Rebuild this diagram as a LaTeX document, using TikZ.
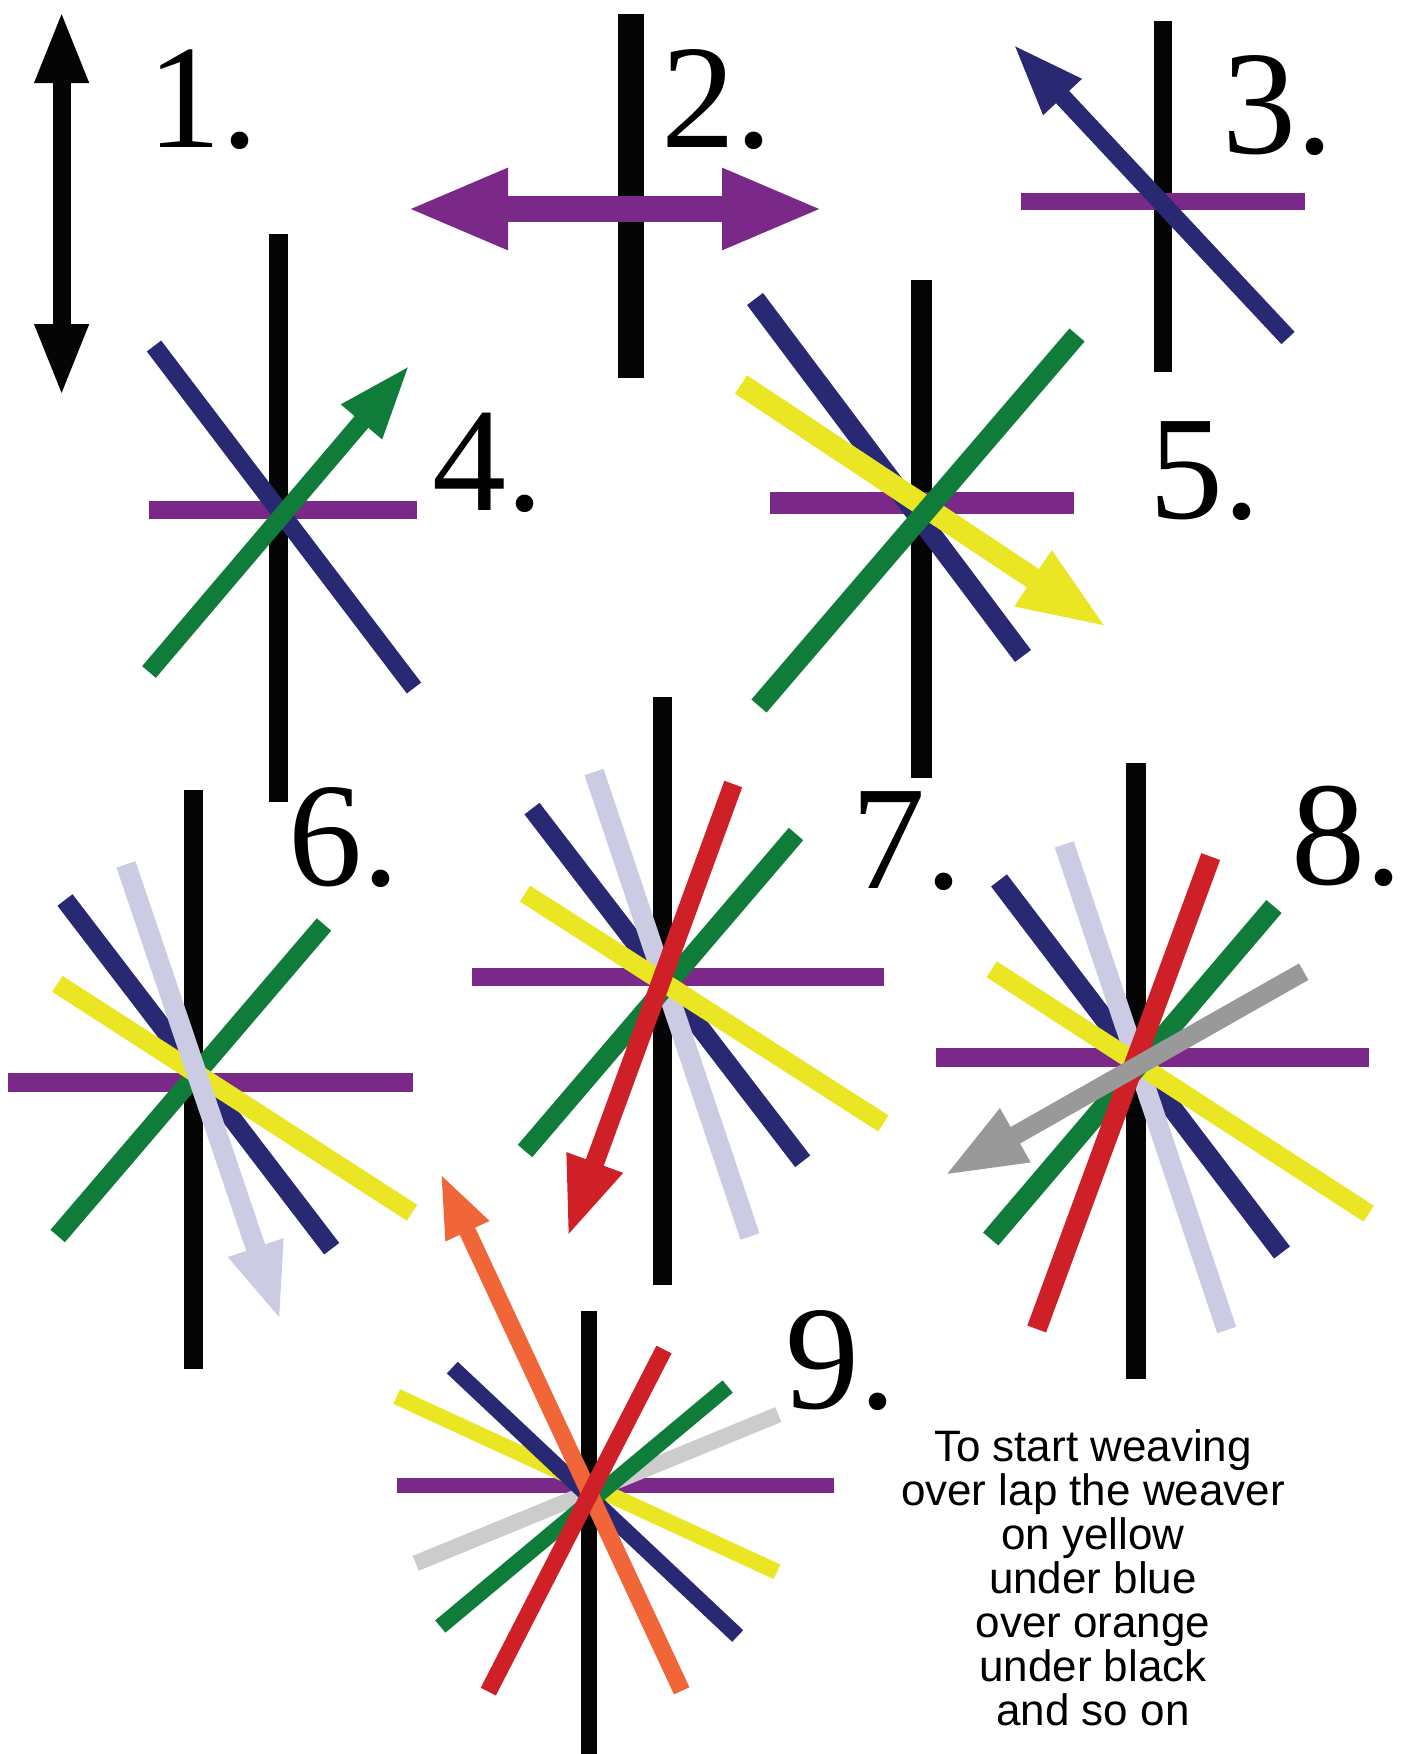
\documentclass[tikz,border=0pt]{standalone}
\usepackage{fontspec}
\setmainfont{Liberation Serif}
\newfontfamily\notefont{Liberation Sans}
\usetikzlibrary{arrows.meta}
\definecolor{wpurple}{RGB}{122,41,137}
\definecolor{wblue}{RGB}{41,40,115}
\definecolor{wgreen}{RGB}{16,124,58}
\definecolor{wyellow}{RGB}{234,230,35}
\definecolor{wlav}{RGB}{203,204,228}
\definecolor{wred}{RGB}{208,32,39}
\definecolor{wgray}{RGB}{153,153,153}
\definecolor{wlgray}{RGB}{204,204,204}
\definecolor{worange}{RGB}{241,102,56}
\definecolor{wblack}{RGB}{5,5,5}
\begin{document}
\begin{tikzpicture}[x=1pt,y=-1pt,
  num/.style={anchor=base west, inner sep=0pt, font=\fontsize{148}{150}\selectfont},
  note/.style={anchor=base, inner sep=0pt, font=\notefont\fontsize{44}{44}\selectfont},
  lw/.style={line width=#1pt}]
\useasboundingbox[fill=white] (0,0) rectangle (1405,1754);

% ---- 1
\draw[wblack,lw=18,{Triangle[length=73pt,width=49pt]}-{Triangle[length=73pt,width=49pt]}] (61.6,397) -- (61.6,10);
\node[num] (n1) at (147,147) {1.};

% ---- 2
\draw[wblack,lw=26] (631,14) -- (631,378);
\draw[wpurple,lw=26,{Triangle[length=102pt,width=74pt]}-{Triangle[length=102pt,width=74pt]}] (406,209) -- (824,209);
\node[num] (n2) at (661,147) {2.};

% ---- 3
\draw[wblack,lw=18] (1163,21) -- (1163,372);
\draw[wpurple,lw=17] (1021,201.5) -- (1305,201.5);
\draw[wblue,lw=18,-{Triangle[length=74pt,width=47pt]}] (1288,338) -- (1012,43);
\node[num] (n3) at (1222,153) {3.};

% ---- 4
\draw[wblack,lw=19] (278.5,234) -- (278.5,802);
\draw[wpurple,lw=18] (149,509.5) -- (417,509.5);
\draw[wblue,lw=18] (154,346) -- (414,688);
\draw[wgreen,lw=18,-{Triangle[length=76pt,width=48pt]}] (149,672) -- (410.7,364);
\node[num] (n4) at (432,510) {4.};

% ---- 5
\draw[wblack,lw=21] (921,280) -- (921,778);
\draw[wpurple,lw=22] (770,503) -- (1074,503);
\draw[wblue,lw=20] (755,299) -- (1023,656);
\draw[wyellow,lw=22,-{Triangle[length=90pt,width=60pt]}] (741,384.5) -- (1108,628);
\draw[wgreen,lw=20] (759,706) -- (1077,335);
\node[num] (n5) at (1149,518) {5.};

% ---- 6
\draw[wblack,lw=19] (193.5,790) -- (193.5,1369);
\draw[wpurple,lw=19] (8,1082) -- (413,1082);
\draw[wblue,lw=19] (65,900) -- (331.7,1248.7);
\draw[wgreen,lw=19] (57.7,1236) -- (324,924.5);
\draw[wyellow,lw=19] (57.3,983.8) -- (412,1212.7);
\draw[wlav,lw=20,-{Triangle[length=78pt,width=52pt]}] (126,864.4) -- (280.7,1321.5);
\node[num] (n6) at (288,885) {6.};

% ---- 7
\draw[wblack,lw=19] (662.5,697) -- (662.5,1285);
\draw[wblue,lw=19] (532,808.6) -- (802.7,1161.3);
\draw[wlav,lw=20] (594,772) -- (750,1236.5);
\draw[wpurple,lw=18] (472,977) -- (884,977);
\draw[wgreen,lw=19] (525,1151) -- (796,834);
\draw[wyellow,lw=19] (525,893.6) -- (883.3,1123.4);
\draw[wred,lw=19,-{Triangle[length=80pt,width=54pt]}] (733.3,784) -- (567.3,1237.6);
\node[num] (n7) at (851,888) {7.};

% ---- 8
\draw[wblack,lw=20] (1136,763) -- (1136,1379);
\draw[wpurple,lw=19] (936,1057) -- (1369,1057);
\draw[wblue,lw=20] (999,880.4) -- (1282,1252.5);
\draw[wlav,lw=20] (1064.3,844.4) -- (1226.7,1330);
\draw[wyellow,lw=19] (991.7,969.3) -- (1368.7,1213.7);
\draw[wgreen,lw=20] (1274,906.5) -- (990.7,1239);
\draw[wred,lw=20] (1210.7,856.6) -- (1036.7,1329);
\draw[wgray,lw=19,-{Triangle[length=82pt,width=56pt]}] (1303.7,971.7) -- (944,1175.7);
\node[num] (n8) at (1291,884) {8.};

% ---- 9
\draw[wblack,lw=16] (588.7,1311) -- (588.7,1760);
\draw[wpurple,lw=15] (396.7,1485.5) -- (834.3,1485.5);
\draw[wlgray,lw=16] (415.7,1563.3) -- (778.3,1414.6);
\draw[wyellow,lw=16] (396.7,1396.5) -- (777,1571.8);
\draw[wblue,lw=16] (452.3,1367.6) -- (737.7,1636);
\draw[wgreen,lw=16] (440.3,1626.5) -- (727.7,1386.5);
\draw[worange,lw=17,-{Triangle[length=65pt,width=43pt]}] (681.7,1690.8) -- (440,1172.3);
\draw[wred,lw=17] (664,1349.5) -- (488.3,1691.6);
\node[num] (n9) at (785,1408) {9.};

% ---- note
\node[note] (t1) at (1093,1461) {To start weaving};
\node[note] (t2) at (1093,1505) {over lap the weaver};
\node[note] (t3) at (1093,1549) {on yellow};
\node[note] (t4) at (1093,1593) {under blue};
\node[note] (t5) at (1093,1637) {over orange};
\node[note] (t6) at (1093,1681) {under black};
\node[note] (t7) at (1093,1725) {and so on};
\end{tikzpicture}
\end{document}
